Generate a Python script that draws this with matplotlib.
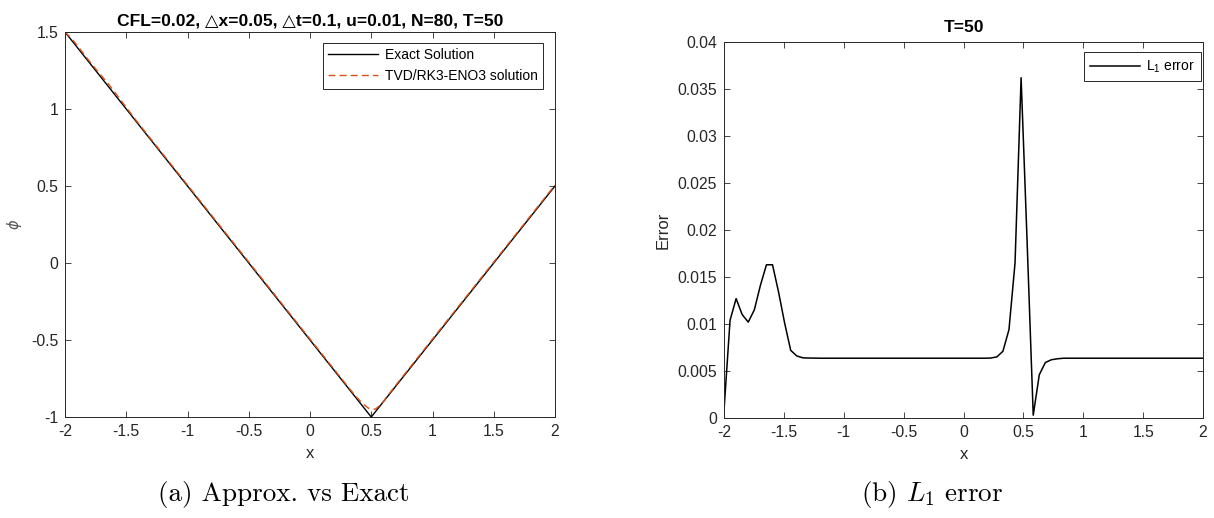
import numpy as np
import matplotlib
matplotlib.use("Agg")
import matplotlib.pyplot as plt
from matplotlib.ticker import FixedLocator, FuncFormatter

# ---------------- data ----------------
# grid: N=80 points on [-2, 2]
x_grid = np.linspace(-2, 2, 80)

# exact solution breakpoints (phi = |x-0.5| - 1)
exact_x = [-2.0, 0.5, 2.0]
exact_phi = [1.5, -1.0, 0.5]

# L1 error (one value per grid point)
l1_error = [
    0.0008, 0.0104, 0.0127, 0.0110, 0.0102, 0.0115, 0.0141, 0.0163, 0.0163, 0.0134,
    0.0101, 0.0072, 0.0066, 0.0064, 0.00638, 0.00637, 0.00636, 0.00636, 0.00636, 0.00636,
    0.00636, 0.00636, 0.00636, 0.00636, 0.00636, 0.00636, 0.00636, 0.00636, 0.00636, 0.00636,
    0.00636, 0.00636, 0.00636, 0.00636, 0.00636, 0.00636, 0.00636, 0.00636, 0.00636, 0.00636,
    0.00636, 0.00636, 0.00636, 0.00636, 0.00638, 0.0065, 0.0071, 0.0094, 0.0165, 0.0362,
    0.0186, 0.0003, 0.0046, 0.0059, 0.0062, 0.0063, 0.00636, 0.00636, 0.00636, 0.00636,
    0.00636, 0.00636, 0.00636, 0.00636, 0.00636, 0.00636, 0.00636, 0.00636, 0.00636, 0.00636,
    0.00636, 0.00636, 0.00636, 0.00636, 0.00636, 0.00636, 0.00636, 0.00636, 0.00636, 0.00636,
]

# approximate (TVD/RK3-ENO3) solution = exact on the grid + error
approx_phi = np.interp(x_grid, exact_x, exact_phi) + np.array(l1_error)

x_ticks = [-2, -1.5, -1, -0.5, 0, 0.5, 1, 1.5, 2]
left_y_ticks = [-1, -0.5, 0, 0.5, 1, 1.5]
right_y_ticks = [0, 0.005, 0.01, 0.015, 0.02, 0.025, 0.03, 0.035, 0.04]

title_left = "CFL=0.02, \u25B3x=0.05, \u25B3t=0.1, u=0.01, N=80, T=50"
title_right = "T=50"
caption_left = "(a) Approx. vs Exact"
caption_right = "(b) $L_1$ error"

# ---------------- style ----------------
plt.rcParams['font.family'] = ['Liberation Sans', 'DejaVu Sans']
plt.rcParams['mathtext.fontset'] = 'custom'
plt.rcParams['mathtext.rm'] = 'Liberation Sans'
plt.rcParams['mathtext.it'] = 'Liberation Sans:italic'

AX = '#262626'
ORANGE = '#D95319'
TICK_FS = 11.3
LAB_FS = 12

fig = plt.figure(figsize=(12.14, 5.18), dpi=100)
W, H = 1214, 518

def axes_px(l, r, t, b):
    return fig.add_axes([l / W, 1 - b / H, (r - l) / W, (b - t) / H])

axL = axes_px(65, 555, 32, 417)
axR = axes_px(724, 1203, 42, 418)

fmt = FuncFormatter(lambda v, p: ('%g' % v))

for ax in (axL, axR):
    for s in ax.spines.values():
        s.set_color(AX)
        s.set_linewidth(0.7)
    ax.tick_params(direction='in', length=4, width=0.6, color=AX,
                   labelcolor=AX, labelsize=TICK_FS, top=True, right=True, pad=5)
    ax.xaxis.set_major_locator(FixedLocator(x_ticks))
    ax.xaxis.set_major_formatter(fmt)
    ax.yaxis.set_major_formatter(fmt)
    ax.set_xlim(-2, 2)
    ax.set_xlabel('x', fontsize=LAB_FS, color=AX, labelpad=5)

# left panel
axL.plot(exact_x, exact_phi, color='black', lw=1.0, label='Exact Solution')
axL.plot(x_grid, approx_phi, color=ORANGE, lw=1.0, dashes=(5, 3),
         label='TVD/RK3-ENO3 solution')
axL.set_ylim(-1, 1.5)
axL.yaxis.set_major_locator(FixedLocator(left_y_ticks))
axL.set_ylabel(r'$\phi$', fontsize=10.5, color='#555555', labelpad=5,
               math_fontfamily='dejavusans')
axL.set_title(title_left, fontsize=12.6, fontweight='bold', pad=5)
legL = axL.legend(loc='upper right', bbox_to_anchor=(0.9755, 0.972),
                  fontsize=10, frameon=True, fancybox=False, framealpha=1,
                  edgecolor=AX, handlelength=3.6, handletextpad=0.45,
                  labelspacing=0.5, borderpad=0.4, borderaxespad=0)
legL.get_frame().set_linewidth(0.7)

# right panel
axR.plot(x_grid, l1_error, color='black', lw=1.1, label='L$_1$ error')
axR.set_ylim(0, 0.04)
axR.yaxis.set_major_locator(FixedLocator(right_y_ticks))
axR.set_ylabel('Error', fontsize=LAB_FS, color=AX, labelpad=5)
axR.set_title(title_right, fontsize=12.6, fontweight='bold', pad=7)
legR = axR.legend(loc='upper right', bbox_to_anchor=(0.996, 0.973),
                  fontsize=10, frameon=True, fancybox=False, framealpha=1,
                  edgecolor=AX, handlelength=3.6, handletextpad=0.45,
                  borderpad=0.45, borderaxespad=0)
legR.get_frame().set_linewidth(0.7)

# captions
fig.text(284 / W, 1 - 494 / H, caption_left, ha='center', va='center',
         fontsize=19.5, family='cmr10', math_fontfamily='cm')
fig.text(932 / W, 1 - 494 / H, caption_right, ha='center', va='center',
         fontsize=19.5, family='cmr10', math_fontfamily='cm')

fig.savefig('out.png', dpi=100)
